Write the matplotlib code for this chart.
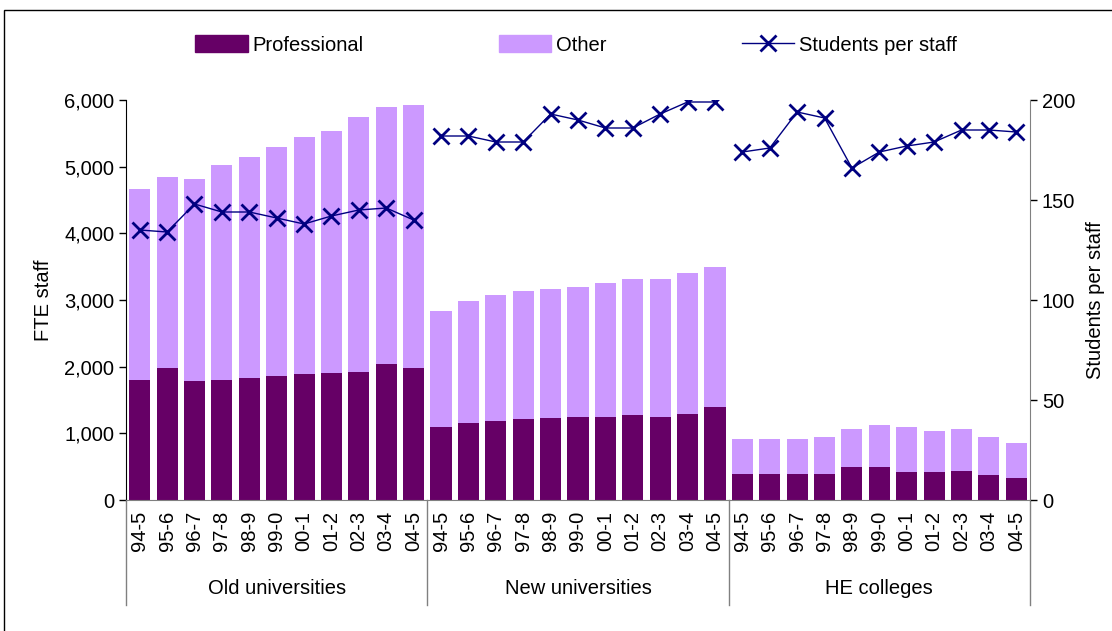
import matplotlib
matplotlib.use('Agg')  # noqa
import matplotlib.pyplot as plt
from matplotlib.patches import Rectangle
from matplotlib.lines import Line2D
from matplotlib.transforms import blended_transform_factory

plt.rcParams['font.family'] = ['Liberation Sans', 'DejaVu Sans']

years = ['94-5', '95-6', '96-7', '97-8', '98-9', '99-0',
         '00-1', '01-2', '02-3', '03-4', '04-5']
groups = ['Old universities', 'New universities', 'HE colleges']

# FTE staff, professional and other, per group
prof_old = [1800, 1980, 1785, 1800, 1830, 1860, 1890, 1905, 1920, 2040, 1980]
other_old = [2865, 2865, 3030, 3225, 3315, 3435, 3555, 3630, 3825, 3855, 3945]
prof_new = [1095, 1155, 1185, 1215, 1230, 1245, 1245, 1275, 1245, 1290, 1395]
other_new = [1740, 1830, 1890, 1920, 1935, 1950, 2010, 2040, 2070, 2115, 2100]
prof_he = [390, 390, 390, 390, 495, 495, 420, 420, 435, 375, 330]
other_he = [525, 525, 525, 555, 570, 630, 675, 615, 630, 570, 525]

# students per staff (right axis)
sps_old = [135, 134, 148, 144, 144, 141, 138, 142, 145, 146, 140]
sps_new = [182, 182, 179, 179, 193, 190, 186, 186, 193, 199, 199]
sps_he = [174, 176, 194, 191, 166, 174, 177, 179, 185, 185, 184]

prof = prof_old + prof_new + prof_he
other = other_old + other_new + other_he
sps_groups = [sps_old, sps_new, sps_he]
labels = years * len(groups)

c_prof = '#660066'
c_other = '#CC99FF'
c_line = '#000080'
fs = 14.5

fig = plt.figure(figsize=(11.12, 6.31), dpi=100)
ax = fig.add_axes([126 / 1112, 131 / 631, 904 / 1112, 400 / 631])

x = list(range(len(prof)))
ax.bar(x, prof, width=0.77, color=c_prof, zorder=2)
ax.bar(x, other, width=0.77, bottom=prof, color=c_other, zorder=2)

ax.set_xlim(-0.5, len(prof) - 0.5)
ax.set_ylim(0, 6000)
ax.set_yticks(range(0, 6001, 1000))
ax.set_yticklabels([f'{v:,}' for v in range(0, 6001, 1000)], fontsize=fs)
ax.set_xticks(x)
ax.set_xticklabels(labels, rotation=90, fontsize=fs)
ax.tick_params(axis='x', length=0, pad=8)
ax.tick_params(axis='y', direction='out', length=5, width=1)
ax.set_ylabel('FTE staff', fontsize=fs, labelpad=8)

for s in ['top', 'right']:
    ax.spines[s].set_visible(False)
ax.spines['bottom'].set_color('#808080')
ax.spines['left'].set_color('#000000')

ax2 = ax.twinx()
ax2.set_ylim(0, 200)
ax2.set_yticks(range(0, 201, 50))
ax2.tick_params(axis='y', direction='out', length=5, width=1, labelsize=fs)
ax2.set_ylabel('Students per staff', fontsize=fs, labelpad=8)
for s in ['top', 'left', 'bottom']:
    ax2.spines[s].set_visible(False)
ax2.spines['right'].set_color('#808080')

n = len(years)
for i, vals in enumerate(sps_groups):
    ax2.plot(range(i * n, (i + 1) * n), vals, color=c_line, lw=1,
             marker='x', markersize=11, markeredgewidth=2, zorder=3)

# group separators and group labels under the axis
trans = blended_transform_factory(ax.transData, ax.transAxes)
for b in range(len(groups) + 1):
    xb = b * n - 0.5
    ax.plot([xb, xb], [0, -0.2625], transform=trans, color='#808080',
            lw=1, clip_on=False)
for i, g in enumerate(groups):
    ax.text(i * n + (n - 1) / 2, -0.22, g, transform=trans, ha='center',
            va='center', fontsize=fs)

# legend
handles = [Rectangle((0, 0), 1, 1, color=c_prof),
           Rectangle((0, 0), 1, 1, color=c_other),
           Line2D([], [], color=c_line, lw=1, marker='x', markersize=11,
                  markeredgewidth=2)]
fig.legend(handles, ['Professional', 'Other', 'Students per staff'],
           loc='center', bbox_to_anchor=(0.518, 1 - 45 / 631), ncol=3,
           frameon=False, fontsize=fs, handlelength=2.6, handleheight=0.9,
           handletextpad=0.25, columnspacing=6.7)

# chart border
fig.patches.append(Rectangle((4 / 1112, -0.1), 1.2, 1.1 - 10 / 631,
                             transform=fig.transFigure, fill=False,
                             edgecolor='black', lw=1))

fig.savefig('out.png', dpi=100)
